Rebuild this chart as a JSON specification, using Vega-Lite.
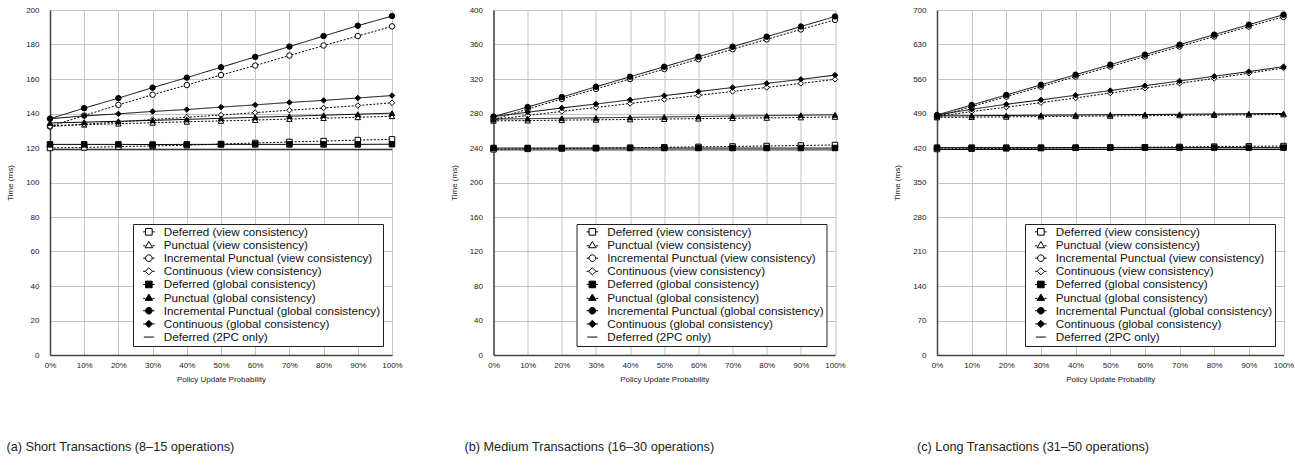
{
"$schema": "https://vega.github.io/schema/vega-lite/v6.json",
"padding": {"left": 6, "top": 6, "right": 0, "bottom": 0},
"bounds": "flush",
"spacing": 101.5,
"datasets": {
"short": [
{"s":"Deferred (view consistency)","p":0,"t":120},{"s":"Deferred (view consistency)","p":10,"t":120.3},{"s":"Deferred (view consistency)","p":20,"t":120.8},{"s":"Deferred (view consistency)","p":30,"t":121.2},{"s":"Deferred (view consistency)","p":40,"t":121.6},{"s":"Deferred (view consistency)","p":50,"t":122.3},{"s":"Deferred (view consistency)","p":60,"t":122.9},{"s":"Deferred (view consistency)","p":70,"t":123.5},{"s":"Deferred (view consistency)","p":80,"t":124},{"s":"Deferred (view consistency)","p":90,"t":124.6},{"s":"Deferred (view consistency)","p":100,"t":125},
{"s":"Punctual (view consistency)","p":0,"t":133},{"s":"Punctual (view consistency)","p":10,"t":133.5},{"s":"Punctual (view consistency)","p":20,"t":134.1},{"s":"Punctual (view consistency)","p":30,"t":134.6},{"s":"Punctual (view consistency)","p":40,"t":135.2},{"s":"Punctual (view consistency)","p":50,"t":135.7},{"s":"Punctual (view consistency)","p":60,"t":136.2},{"s":"Punctual (view consistency)","p":70,"t":136.8},{"s":"Punctual (view consistency)","p":80,"t":137.3},{"s":"Punctual (view consistency)","p":90,"t":137.8},{"s":"Punctual (view consistency)","p":100,"t":138.4},
{"s":"Incremental Punctual (view consistency)","p":0,"t":132.5},{"s":"Incremental Punctual (view consistency)","p":10,"t":138.8},{"s":"Incremental Punctual (view consistency)","p":20,"t":145},{"s":"Incremental Punctual (view consistency)","p":30,"t":150.9},{"s":"Incremental Punctual (view consistency)","p":40,"t":156.5},{"s":"Incremental Punctual (view consistency)","p":50,"t":162.3},{"s":"Incremental Punctual (view consistency)","p":60,"t":167.8},{"s":"Incremental Punctual (view consistency)","p":70,"t":173.6},{"s":"Incremental Punctual (view consistency)","p":80,"t":179.4},{"s":"Incremental Punctual (view consistency)","p":90,"t":184.9},{"s":"Incremental Punctual (view consistency)","p":100,"t":190.5},
{"s":"Continuous (view consistency)","p":0,"t":132.4},{"s":"Continuous (view consistency)","p":10,"t":133.8},{"s":"Continuous (view consistency)","p":20,"t":135.1},{"s":"Continuous (view consistency)","p":30,"t":136.5},{"s":"Continuous (view consistency)","p":40,"t":137.8},{"s":"Continuous (view consistency)","p":50,"t":139.1},{"s":"Continuous (view consistency)","p":60,"t":140.5},{"s":"Continuous (view consistency)","p":70,"t":141.9},{"s":"Continuous (view consistency)","p":80,"t":143.2},{"s":"Continuous (view consistency)","p":90,"t":144.6},{"s":"Continuous (view consistency)","p":100,"t":146.2},
{"s":"Deferred (global consistency)","p":0,"t":122.1},{"s":"Deferred (global consistency)","p":10,"t":122.1},{"s":"Deferred (global consistency)","p":20,"t":122.1},{"s":"Deferred (global consistency)","p":30,"t":122},{"s":"Deferred (global consistency)","p":40,"t":122.1},{"s":"Deferred (global consistency)","p":50,"t":122.1},{"s":"Deferred (global consistency)","p":60,"t":122.1},{"s":"Deferred (global consistency)","p":70,"t":122.1},{"s":"Deferred (global consistency)","p":80,"t":122.1},{"s":"Deferred (global consistency)","p":90,"t":122.1},{"s":"Deferred (global consistency)","p":100,"t":122.2},
{"s":"Punctual (global consistency)","p":0,"t":134.5},{"s":"Punctual (global consistency)","p":10,"t":135},{"s":"Punctual (global consistency)","p":20,"t":135.5},{"s":"Punctual (global consistency)","p":30,"t":136},{"s":"Punctual (global consistency)","p":40,"t":136.6},{"s":"Punctual (global consistency)","p":50,"t":137.2},{"s":"Punctual (global consistency)","p":60,"t":137.8},{"s":"Punctual (global consistency)","p":70,"t":138.4},{"s":"Punctual (global consistency)","p":80,"t":139},{"s":"Punctual (global consistency)","p":90,"t":139.6},{"s":"Punctual (global consistency)","p":100,"t":140.2},
{"s":"Incremental Punctual (global consistency)","p":0,"t":137},{"s":"Incremental Punctual (global consistency)","p":10,"t":143.1},{"s":"Incremental Punctual (global consistency)","p":20,"t":148.9},{"s":"Incremental Punctual (global consistency)","p":30,"t":155},{"s":"Incremental Punctual (global consistency)","p":40,"t":160.8},{"s":"Incremental Punctual (global consistency)","p":50,"t":166.8},{"s":"Incremental Punctual (global consistency)","p":60,"t":172.8},{"s":"Incremental Punctual (global consistency)","p":70,"t":178.8},{"s":"Incremental Punctual (global consistency)","p":80,"t":184.9},{"s":"Incremental Punctual (global consistency)","p":90,"t":190.9},{"s":"Incremental Punctual (global consistency)","p":100,"t":196.5},
{"s":"Continuous (global consistency)","p":0,"t":137},{"s":"Continuous (global consistency)","p":10,"t":138.6},{"s":"Continuous (global consistency)","p":20,"t":139.8},{"s":"Continuous (global consistency)","p":30,"t":141.2},{"s":"Continuous (global consistency)","p":40,"t":142.3},{"s":"Continuous (global consistency)","p":50,"t":143.7},{"s":"Continuous (global consistency)","p":60,"t":145},{"s":"Continuous (global consistency)","p":70,"t":146.4},{"s":"Continuous (global consistency)","p":80,"t":147.6},{"s":"Continuous (global consistency)","p":90,"t":149},{"s":"Continuous (global consistency)","p":100,"t":150.4},
{"s":"Deferred (2PC only)","p":0,"t":119},{"s":"Deferred (2PC only)","p":10,"t":119},{"s":"Deferred (2PC only)","p":20,"t":119},{"s":"Deferred (2PC only)","p":30,"t":119},{"s":"Deferred (2PC only)","p":40,"t":119},{"s":"Deferred (2PC only)","p":50,"t":119},{"s":"Deferred (2PC only)","p":60,"t":119},{"s":"Deferred (2PC only)","p":70,"t":119},{"s":"Deferred (2PC only)","p":80,"t":119},{"s":"Deferred (2PC only)","p":90,"t":119},{"s":"Deferred (2PC only)","p":100,"t":119}
],
"medium": [
{"s":"Deferred (view consistency)","p":0,"t":238.5},{"s":"Deferred (view consistency)","p":10,"t":239},{"s":"Deferred (view consistency)","p":20,"t":239.4},{"s":"Deferred (view consistency)","p":30,"t":239.8},{"s":"Deferred (view consistency)","p":40,"t":240.3},{"s":"Deferred (view consistency)","p":50,"t":240.8},{"s":"Deferred (view consistency)","p":60,"t":241.3},{"s":"Deferred (view consistency)","p":70,"t":241.8},{"s":"Deferred (view consistency)","p":80,"t":242.3},{"s":"Deferred (view consistency)","p":90,"t":242.9},{"s":"Deferred (view consistency)","p":100,"t":243.5},
{"s":"Punctual (view consistency)","p":0,"t":271.5},{"s":"Punctual (view consistency)","p":10,"t":271.8},{"s":"Punctual (view consistency)","p":20,"t":272.3},{"s":"Punctual (view consistency)","p":30,"t":272.7},{"s":"Punctual (view consistency)","p":40,"t":273.1},{"s":"Punctual (view consistency)","p":50,"t":273.6},{"s":"Punctual (view consistency)","p":60,"t":274},{"s":"Punctual (view consistency)","p":70,"t":274.5},{"s":"Punctual (view consistency)","p":80,"t":274.9},{"s":"Punctual (view consistency)","p":90,"t":275.4},{"s":"Punctual (view consistency)","p":100,"t":276},
{"s":"Incremental Punctual (view consistency)","p":0,"t":273},{"s":"Incremental Punctual (view consistency)","p":10,"t":285},{"s":"Incremental Punctual (view consistency)","p":20,"t":297},{"s":"Incremental Punctual (view consistency)","p":30,"t":308.5},{"s":"Incremental Punctual (view consistency)","p":40,"t":320},{"s":"Incremental Punctual (view consistency)","p":50,"t":331.5},{"s":"Incremental Punctual (view consistency)","p":60,"t":343},{"s":"Incremental Punctual (view consistency)","p":70,"t":354.5},{"s":"Incremental Punctual (view consistency)","p":80,"t":366},{"s":"Incremental Punctual (view consistency)","p":90,"t":377.5},{"s":"Incremental Punctual (view consistency)","p":100,"t":388.5},
{"s":"Continuous (view consistency)","p":0,"t":273},{"s":"Continuous (view consistency)","p":10,"t":277.8},{"s":"Continuous (view consistency)","p":20,"t":282.4},{"s":"Continuous (view consistency)","p":30,"t":287},{"s":"Continuous (view consistency)","p":40,"t":291.6},{"s":"Continuous (view consistency)","p":50,"t":296.3},{"s":"Continuous (view consistency)","p":60,"t":301},{"s":"Continuous (view consistency)","p":70,"t":305.6},{"s":"Continuous (view consistency)","p":80,"t":310.2},{"s":"Continuous (view consistency)","p":90,"t":314.9},{"s":"Continuous (view consistency)","p":100,"t":319.6},
{"s":"Deferred (global consistency)","p":0,"t":240},{"s":"Deferred (global consistency)","p":10,"t":240},{"s":"Deferred (global consistency)","p":20,"t":240},{"s":"Deferred (global consistency)","p":30,"t":240},{"s":"Deferred (global consistency)","p":40,"t":240},{"s":"Deferred (global consistency)","p":50,"t":240},{"s":"Deferred (global consistency)","p":60,"t":240},{"s":"Deferred (global consistency)","p":70,"t":240},{"s":"Deferred (global consistency)","p":80,"t":240},{"s":"Deferred (global consistency)","p":90,"t":240},{"s":"Deferred (global consistency)","p":100,"t":240},
{"s":"Punctual (global consistency)","p":0,"t":273.5},{"s":"Punctual (global consistency)","p":10,"t":274},{"s":"Punctual (global consistency)","p":20,"t":274.5},{"s":"Punctual (global consistency)","p":30,"t":275},{"s":"Punctual (global consistency)","p":40,"t":275.5},{"s":"Punctual (global consistency)","p":50,"t":276},{"s":"Punctual (global consistency)","p":60,"t":276.5},{"s":"Punctual (global consistency)","p":70,"t":277},{"s":"Punctual (global consistency)","p":80,"t":277.5},{"s":"Punctual (global consistency)","p":90,"t":278},{"s":"Punctual (global consistency)","p":100,"t":278.5},
{"s":"Incremental Punctual (global consistency)","p":0,"t":276.4},{"s":"Incremental Punctual (global consistency)","p":10,"t":287.5},{"s":"Incremental Punctual (global consistency)","p":20,"t":299},{"s":"Incremental Punctual (global consistency)","p":30,"t":311},{"s":"Incremental Punctual (global consistency)","p":40,"t":322.6},{"s":"Incremental Punctual (global consistency)","p":50,"t":334.2},{"s":"Incremental Punctual (global consistency)","p":60,"t":345.8},{"s":"Incremental Punctual (global consistency)","p":70,"t":357.4},{"s":"Incremental Punctual (global consistency)","p":80,"t":369},{"s":"Incremental Punctual (global consistency)","p":90,"t":380.8},{"s":"Incremental Punctual (global consistency)","p":100,"t":392.5},
{"s":"Continuous (global consistency)","p":0,"t":276.4},{"s":"Continuous (global consistency)","p":10,"t":281.5},{"s":"Continuous (global consistency)","p":20,"t":286.4},{"s":"Continuous (global consistency)","p":30,"t":291},{"s":"Continuous (global consistency)","p":40,"t":295.8},{"s":"Continuous (global consistency)","p":50,"t":300.7},{"s":"Continuous (global consistency)","p":60,"t":305.4},{"s":"Continuous (global consistency)","p":70,"t":310.1},{"s":"Continuous (global consistency)","p":80,"t":314.9},{"s":"Continuous (global consistency)","p":90,"t":319.6},{"s":"Continuous (global consistency)","p":100,"t":324.5},
{"s":"Deferred (2PC only)","p":0,"t":237.8},{"s":"Deferred (2PC only)","p":10,"t":237.8},{"s":"Deferred (2PC only)","p":20,"t":237.8},{"s":"Deferred (2PC only)","p":30,"t":237.8},{"s":"Deferred (2PC only)","p":40,"t":237.8},{"s":"Deferred (2PC only)","p":50,"t":237.8},{"s":"Deferred (2PC only)","p":60,"t":237.8},{"s":"Deferred (2PC only)","p":70,"t":237.8},{"s":"Deferred (2PC only)","p":80,"t":237.8},{"s":"Deferred (2PC only)","p":90,"t":237.8},{"s":"Deferred (2PC only)","p":100,"t":237.8}
],
"long": [
{"s":"Deferred (view consistency)","p":0,"t":418},{"s":"Deferred (view consistency)","p":10,"t":418.6},{"s":"Deferred (view consistency)","p":20,"t":419.2},{"s":"Deferred (view consistency)","p":30,"t":419.8},{"s":"Deferred (view consistency)","p":40,"t":420.4},{"s":"Deferred (view consistency)","p":50,"t":421},{"s":"Deferred (view consistency)","p":60,"t":421.6},{"s":"Deferred (view consistency)","p":70,"t":422.2},{"s":"Deferred (view consistency)","p":80,"t":422.8},{"s":"Deferred (view consistency)","p":90,"t":423.4},{"s":"Deferred (view consistency)","p":100,"t":424},
{"s":"Punctual (view consistency)","p":0,"t":482},{"s":"Punctual (view consistency)","p":10,"t":482.6},{"s":"Punctual (view consistency)","p":20,"t":483.2},{"s":"Punctual (view consistency)","p":30,"t":483.8},{"s":"Punctual (view consistency)","p":40,"t":484.4},{"s":"Punctual (view consistency)","p":50,"t":485},{"s":"Punctual (view consistency)","p":60,"t":485.6},{"s":"Punctual (view consistency)","p":70,"t":486.2},{"s":"Punctual (view consistency)","p":80,"t":486.8},{"s":"Punctual (view consistency)","p":90,"t":487.4},{"s":"Punctual (view consistency)","p":100,"t":488},
{"s":"Incremental Punctual (view consistency)","p":0,"t":484},{"s":"Incremental Punctual (view consistency)","p":10,"t":504},{"s":"Incremental Punctual (view consistency)","p":20,"t":524.3},{"s":"Incremental Punctual (view consistency)","p":30,"t":544.5},{"s":"Incremental Punctual (view consistency)","p":40,"t":565},{"s":"Incremental Punctual (view consistency)","p":50,"t":585.3},{"s":"Incremental Punctual (view consistency)","p":60,"t":605.6},{"s":"Incremental Punctual (view consistency)","p":70,"t":626},{"s":"Incremental Punctual (view consistency)","p":80,"t":646.3},{"s":"Incremental Punctual (view consistency)","p":90,"t":666.5},{"s":"Incremental Punctual (view consistency)","p":100,"t":686},
{"s":"Continuous (view consistency)","p":0,"t":483.6},{"s":"Continuous (view consistency)","p":10,"t":494},{"s":"Continuous (view consistency)","p":20,"t":502.8},{"s":"Continuous (view consistency)","p":30,"t":512},{"s":"Continuous (view consistency)","p":40,"t":521.5},{"s":"Continuous (view consistency)","p":50,"t":531.5},{"s":"Continuous (view consistency)","p":60,"t":541.2},{"s":"Continuous (view consistency)","p":70,"t":551.2},{"s":"Continuous (view consistency)","p":80,"t":561.2},{"s":"Continuous (view consistency)","p":90,"t":571.6},{"s":"Continuous (view consistency)","p":100,"t":582.4},
{"s":"Deferred (global consistency)","p":0,"t":420.7},{"s":"Deferred (global consistency)","p":10,"t":420.7},{"s":"Deferred (global consistency)","p":20,"t":420.7},{"s":"Deferred (global consistency)","p":30,"t":420.7},{"s":"Deferred (global consistency)","p":40,"t":420.7},{"s":"Deferred (global consistency)","p":50,"t":420.7},{"s":"Deferred (global consistency)","p":60,"t":420.7},{"s":"Deferred (global consistency)","p":70,"t":420.7},{"s":"Deferred (global consistency)","p":80,"t":420.7},{"s":"Deferred (global consistency)","p":90,"t":420.7},{"s":"Deferred (global consistency)","p":100,"t":420.7},
{"s":"Punctual (global consistency)","p":0,"t":485},{"s":"Punctual (global consistency)","p":10,"t":485.5},{"s":"Punctual (global consistency)","p":20,"t":486},{"s":"Punctual (global consistency)","p":30,"t":486.5},{"s":"Punctual (global consistency)","p":40,"t":487},{"s":"Punctual (global consistency)","p":50,"t":487.5},{"s":"Punctual (global consistency)","p":60,"t":488},{"s":"Punctual (global consistency)","p":70,"t":488.5},{"s":"Punctual (global consistency)","p":80,"t":489},{"s":"Punctual (global consistency)","p":90,"t":489.5},{"s":"Punctual (global consistency)","p":100,"t":490},
{"s":"Incremental Punctual (global consistency)","p":0,"t":487},{"s":"Incremental Punctual (global consistency)","p":10,"t":507.2},{"s":"Incremental Punctual (global consistency)","p":20,"t":527.6},{"s":"Incremental Punctual (global consistency)","p":30,"t":548.1},{"s":"Incremental Punctual (global consistency)","p":40,"t":568.7},{"s":"Incremental Punctual (global consistency)","p":50,"t":589.1},{"s":"Incremental Punctual (global consistency)","p":60,"t":609.4},{"s":"Incremental Punctual (global consistency)","p":70,"t":629.7},{"s":"Incremental Punctual (global consistency)","p":80,"t":650},{"s":"Incremental Punctual (global consistency)","p":90,"t":670.2},{"s":"Incremental Punctual (global consistency)","p":100,"t":690.5},
{"s":"Continuous (global consistency)","p":0,"t":487},{"s":"Continuous (global consistency)","p":10,"t":498.5},{"s":"Continuous (global consistency)","p":20,"t":508.7},{"s":"Continuous (global consistency)","p":30,"t":517.6},{"s":"Continuous (global consistency)","p":40,"t":527},{"s":"Continuous (global consistency)","p":50,"t":536.5},{"s":"Continuous (global consistency)","p":60,"t":546.4},{"s":"Continuous (global consistency)","p":70,"t":556},{"s":"Continuous (global consistency)","p":80,"t":565.5},{"s":"Continuous (global consistency)","p":90,"t":575},{"s":"Continuous (global consistency)","p":100,"t":585},
{"s":"Deferred (2PC only)","p":0,"t":417},{"s":"Deferred (2PC only)","p":10,"t":417},{"s":"Deferred (2PC only)","p":20,"t":417},{"s":"Deferred (2PC only)","p":30,"t":417},{"s":"Deferred (2PC only)","p":40,"t":417},{"s":"Deferred (2PC only)","p":50,"t":417},{"s":"Deferred (2PC only)","p":60,"t":417},{"s":"Deferred (2PC only)","p":70,"t":417},{"s":"Deferred (2PC only)","p":80,"t":417},{"s":"Deferred (2PC only)","p":90,"t":417},{"s":"Deferred (2PC only)","p":100,"t":417}
]
},
"hconcat": [
{
"width": 342, "height": 345,
"data": {"name": "short"},
"title": {"text": "(a) Short Transactions (8–15 operations)", "dx": -43.5},
"encoding": {
 "x": {"field": "p", "type": "quantitative", "scale": {"domain": [0, 100], "nice": false}, "axis": {"values": [0,10,20,30,40,50,60,70,80,90,100], "labelExpr": "datum.value + '%'", "title": "Policy Update Probability"}},
 "y": {"field": "t", "type": "quantitative", "scale": {"domain": [0, 200], "nice": false}, "axis": {"values": [0,20,40,60,80,100,120,140,160,180,200], "title": "Time (ms)"}}
},
"layer": [
 {"mark": {"type": "line", "color": "black", "strokeWidth": 1},
  "encoding": {"detail": {"field": "s"}, "strokeDash": {"field": "s", "scale": {"domain": ["Deferred (view consistency)","Punctual (view consistency)","Incremental Punctual (view consistency)","Continuous (view consistency)","Deferred (global consistency)","Punctual (global consistency)","Incremental Punctual (global consistency)","Continuous (global consistency)","Deferred (2PC only)"], "range": [[2,1.6],[2,1.6],[2,1.6],[2,1.6],[1,0],[1,0],[1,0],[1,0],[1,0]]}, "legend": null}}},
 {"transform": [{"filter": "datum.s !== 'Deferred (2PC only)'"}],
  "mark": {"type": "point", "filled": true, "stroke": "black", "strokeWidth": 1, "size": 30, "opacity": 1},
  "encoding": {
   "shape": {"field": "s", "scale": {"domain": ["Deferred (view consistency)","Punctual (view consistency)","Incremental Punctual (view consistency)","Continuous (view consistency)","Deferred (global consistency)","Punctual (global consistency)","Incremental Punctual (global consistency)","Continuous (global consistency)"], "range": ["square","triangle-up","circle","diamond","square","triangle-up","circle","diamond"]}, "legend": null},
   "fill": {"field": "s", "scale": {"domain": ["Deferred (view consistency)","Punctual (view consistency)","Incremental Punctual (view consistency)","Continuous (view consistency)","Deferred (global consistency)","Punctual (global consistency)","Incremental Punctual (global consistency)","Continuous (global consistency)"], "range": ["white","white","white","white","black","black","black","black"]}, "legend": null}}},
 {"mark": {"type": "point", "filled": true, "opacity": 0, "stroke": "black", "size": 100},
  "encoding": {
   "shape": {"field": "s", "scale": {"domain": ["Deferred (view consistency)","Punctual (view consistency)","Incremental Punctual (view consistency)","Continuous (view consistency)","Deferred (global consistency)","Punctual (global consistency)","Incremental Punctual (global consistency)","Continuous (global consistency)","Deferred (2PC only)"], "range": ["M-1.15,0H-0.66M0.66,0H1.15M-0.66,-0.66H0.66V0.66H-0.66Z","M-1.15,0.15H-0.7M0.7,0.15H1.15M0,-0.7L0.75,0.55L-0.75,0.55Z","M-1.15,0H-0.66M0.66,0H1.15M0.66,0A0.66,0.66,0,1,1,-0.66,0A0.66,0.66,0,1,1,0.66,0Z","M-1.15,0H-0.72M0.72,0H1.15M0,-0.72L0.72,0L0,0.72L-0.72,0Z","M-1.15,0H-0.66M0.66,0H1.15M-0.66,-0.66H0.66V0.66H-0.66Z","M-1.15,0.15H-0.7M0.7,0.15H1.15M0,-0.7L0.75,0.55L-0.75,0.55Z","M-1.15,0H-0.66M0.66,0H1.15M0.66,0A0.66,0.66,0,1,1,-0.66,0A0.66,0.66,0,1,1,0.66,0Z","M-1.15,0H-0.72M0.72,0H1.15M0,-0.72L0.72,0L0,0.72L-0.72,0Z","M-1,0H1"]}, "legend": {"title": null, "labelExpr": "datum.label + '\u00a0\u00a0'", "encode": {"symbols": {"update": {"stroke": {"value": "black"}, "strokeWidth": {"value": 1}, "opacity": {"value": 1}}}}}},
   "fill": {"field": "s", "scale": {"domain": ["Deferred (view consistency)","Punctual (view consistency)","Incremental Punctual (view consistency)","Continuous (view consistency)","Deferred (global consistency)","Punctual (global consistency)","Incremental Punctual (global consistency)","Continuous (global consistency)","Deferred (2PC only)"], "range": ["white","white","white","white","black","black","black","black","white"]}, "legend": {"title": null, "labelExpr": "datum.label + '\u00a0\u00a0'", "encode": {"symbols": {"update": {"stroke": {"value": "black"}, "strokeWidth": {"value": 1}, "opacity": {"value": 1}}}}}}}}
],
"resolve": {"scale": {"shape": "independent", "fill": "independent"}, "legend": {"shape": "independent", "fill": "independent"}}
},
{
"width": 341.5, "height": 345,
"data": {"name": "medium"},
"title": {"text": "(b) Medium Transactions (16–30 operations)", "dx": -29},
"encoding": {
 "x": {"field": "p", "type": "quantitative", "scale": {"domain": [0, 100], "nice": false}, "axis": {"values": [0,10,20,30,40,50,60,70,80,90,100], "labelExpr": "datum.value + '%'", "title": "Policy Update Probability"}},
 "y": {"field": "t", "type": "quantitative", "scale": {"domain": [0, 400], "nice": false}, "axis": {"values": [0,40,80,120,160,200,240,280,320,360,400], "title": "Time (ms)"}}
},
"layer": [
 {"mark": {"type": "line", "color": "black", "strokeWidth": 1},
  "encoding": {"detail": {"field": "s"}, "strokeDash": {"field": "s", "scale": {"domain": ["Deferred (view consistency)","Punctual (view consistency)","Incremental Punctual (view consistency)","Continuous (view consistency)","Deferred (global consistency)","Punctual (global consistency)","Incremental Punctual (global consistency)","Continuous (global consistency)","Deferred (2PC only)"], "range": [[2,1.6],[2,1.6],[2,1.6],[2,1.6],[1,0],[1,0],[1,0],[1,0],[1,0]]}, "legend": null}}},
 {"transform": [{"filter": "datum.s !== 'Deferred (2PC only)'"}],
  "mark": {"type": "point", "filled": true, "stroke": "black", "strokeWidth": 1, "size": 30, "opacity": 1},
  "encoding": {
   "shape": {"field": "s", "scale": {"domain": ["Deferred (view consistency)","Punctual (view consistency)","Incremental Punctual (view consistency)","Continuous (view consistency)","Deferred (global consistency)","Punctual (global consistency)","Incremental Punctual (global consistency)","Continuous (global consistency)"], "range": ["square","triangle-up","circle","diamond","square","triangle-up","circle","diamond"]}, "legend": null},
   "fill": {"field": "s", "scale": {"domain": ["Deferred (view consistency)","Punctual (view consistency)","Incremental Punctual (view consistency)","Continuous (view consistency)","Deferred (global consistency)","Punctual (global consistency)","Incremental Punctual (global consistency)","Continuous (global consistency)"], "range": ["white","white","white","white","black","black","black","black"]}, "legend": null}}},
 {"mark": {"type": "point", "filled": true, "opacity": 0, "stroke": "black", "size": 100},
  "encoding": {
   "shape": {"field": "s", "scale": {"domain": ["Deferred (view consistency)","Punctual (view consistency)","Incremental Punctual (view consistency)","Continuous (view consistency)","Deferred (global consistency)","Punctual (global consistency)","Incremental Punctual (global consistency)","Continuous (global consistency)","Deferred (2PC only)"], "range": ["M-1.15,0H-0.66M0.66,0H1.15M-0.66,-0.66H0.66V0.66H-0.66Z","M-1.15,0.15H-0.7M0.7,0.15H1.15M0,-0.7L0.75,0.55L-0.75,0.55Z","M-1.15,0H-0.66M0.66,0H1.15M0.66,0A0.66,0.66,0,1,1,-0.66,0A0.66,0.66,0,1,1,0.66,0Z","M-1.15,0H-0.72M0.72,0H1.15M0,-0.72L0.72,0L0,0.72L-0.72,0Z","M-1.15,0H-0.66M0.66,0H1.15M-0.66,-0.66H0.66V0.66H-0.66Z","M-1.15,0.15H-0.7M0.7,0.15H1.15M0,-0.7L0.75,0.55L-0.75,0.55Z","M-1.15,0H-0.66M0.66,0H1.15M0.66,0A0.66,0.66,0,1,1,-0.66,0A0.66,0.66,0,1,1,0.66,0Z","M-1.15,0H-0.72M0.72,0H1.15M0,-0.72L0.72,0L0,0.72L-0.72,0Z","M-1,0H1"]}, "legend": {"title": null, "labelExpr": "datum.label + '\u00a0\u00a0'", "encode": {"symbols": {"update": {"stroke": {"value": "black"}, "strokeWidth": {"value": 1}, "opacity": {"value": 1}}}}}},
   "fill": {"field": "s", "scale": {"domain": ["Deferred (view consistency)","Punctual (view consistency)","Incremental Punctual (view consistency)","Continuous (view consistency)","Deferred (global consistency)","Punctual (global consistency)","Incremental Punctual (global consistency)","Continuous (global consistency)","Deferred (2PC only)"], "range": ["white","white","white","white","black","black","black","black","white"]}, "legend": {"title": null, "labelExpr": "datum.label + '\u00a0\u00a0'", "encode": {"symbols": {"update": {"stroke": {"value": "black"}, "strokeWidth": {"value": 1}, "opacity": {"value": 1}}}}}}}}
],
"resolve": {"scale": {"shape": "independent", "fill": "independent"}, "legend": {"shape": "independent", "fill": "independent"}}
},
{
"width": 346.5, "height": 345,
"data": {"name": "long"},
"title": {"text": "(c) Long Transactions (31–50 operations)", "dx": -20},
"encoding": {
 "x": {"field": "p", "type": "quantitative", "scale": {"domain": [0, 100], "nice": false}, "axis": {"values": [0,10,20,30,40,50,60,70,80,90,100], "labelExpr": "datum.value + '%'", "title": "Policy Update Probability"}},
 "y": {"field": "t", "type": "quantitative", "scale": {"domain": [0, 700], "nice": false}, "axis": {"values": [0,70,140,210,280,350,420,490,560,630,700], "title": "Time (ms)"}}
},
"layer": [
 {"mark": {"type": "line", "color": "black", "strokeWidth": 1},
  "encoding": {"detail": {"field": "s"}, "strokeDash": {"field": "s", "scale": {"domain": ["Deferred (view consistency)","Punctual (view consistency)","Incremental Punctual (view consistency)","Continuous (view consistency)","Deferred (global consistency)","Punctual (global consistency)","Incremental Punctual (global consistency)","Continuous (global consistency)","Deferred (2PC only)"], "range": [[2,1.6],[2,1.6],[2,1.6],[2,1.6],[1,0],[1,0],[1,0],[1,0],[1,0]]}, "legend": null}}},
 {"transform": [{"filter": "datum.s !== 'Deferred (2PC only)'"}],
  "mark": {"type": "point", "filled": true, "stroke": "black", "strokeWidth": 1, "size": 30, "opacity": 1},
  "encoding": {
   "shape": {"field": "s", "scale": {"domain": ["Deferred (view consistency)","Punctual (view consistency)","Incremental Punctual (view consistency)","Continuous (view consistency)","Deferred (global consistency)","Punctual (global consistency)","Incremental Punctual (global consistency)","Continuous (global consistency)"], "range": ["square","triangle-up","circle","diamond","square","triangle-up","circle","diamond"]}, "legend": null},
   "fill": {"field": "s", "scale": {"domain": ["Deferred (view consistency)","Punctual (view consistency)","Incremental Punctual (view consistency)","Continuous (view consistency)","Deferred (global consistency)","Punctual (global consistency)","Incremental Punctual (global consistency)","Continuous (global consistency)"], "range": ["white","white","white","white","black","black","black","black"]}, "legend": null}}},
 {"mark": {"type": "point", "filled": true, "opacity": 0, "stroke": "black", "size": 100},
  "encoding": {
   "shape": {"field": "s", "scale": {"domain": ["Deferred (view consistency)","Punctual (view consistency)","Incremental Punctual (view consistency)","Continuous (view consistency)","Deferred (global consistency)","Punctual (global consistency)","Incremental Punctual (global consistency)","Continuous (global consistency)","Deferred (2PC only)"], "range": ["M-1.15,0H-0.66M0.66,0H1.15M-0.66,-0.66H0.66V0.66H-0.66Z","M-1.15,0.15H-0.7M0.7,0.15H1.15M0,-0.7L0.75,0.55L-0.75,0.55Z","M-1.15,0H-0.66M0.66,0H1.15M0.66,0A0.66,0.66,0,1,1,-0.66,0A0.66,0.66,0,1,1,0.66,0Z","M-1.15,0H-0.72M0.72,0H1.15M0,-0.72L0.72,0L0,0.72L-0.72,0Z","M-1.15,0H-0.66M0.66,0H1.15M-0.66,-0.66H0.66V0.66H-0.66Z","M-1.15,0.15H-0.7M0.7,0.15H1.15M0,-0.7L0.75,0.55L-0.75,0.55Z","M-1.15,0H-0.66M0.66,0H1.15M0.66,0A0.66,0.66,0,1,1,-0.66,0A0.66,0.66,0,1,1,0.66,0Z","M-1.15,0H-0.72M0.72,0H1.15M0,-0.72L0.72,0L0,0.72L-0.72,0Z","M-1,0H1"]}, "legend": {"title": null, "labelExpr": "datum.label + '\u00a0\u00a0'", "encode": {"symbols": {"update": {"stroke": {"value": "black"}, "strokeWidth": {"value": 1}, "opacity": {"value": 1}}}}}},
   "fill": {"field": "s", "scale": {"domain": ["Deferred (view consistency)","Punctual (view consistency)","Incremental Punctual (view consistency)","Continuous (view consistency)","Deferred (global consistency)","Punctual (global consistency)","Incremental Punctual (global consistency)","Continuous (global consistency)","Deferred (2PC only)"], "range": ["white","white","white","white","black","black","black","black","white"]}, "legend": {"title": null, "labelExpr": "datum.label + '\u00a0\u00a0'", "encode": {"symbols": {"update": {"stroke": {"value": "black"}, "strokeWidth": {"value": 1}, "opacity": {"value": 1}}}}}}}}
],
"resolve": {"scale": {"shape": "independent", "fill": "independent"}, "legend": {"shape": "independent", "fill": "independent"}}
}
],
"config": {
 "font": "Liberation Sans",
 "background": "white",
 "view": {"stroke": null},
 "axis": {"labelFont": "Liberation Sans", "labelFontSize": 8, "labelColor": "#222", "labelFlush": false, "titleFont": "Liberation Sans", "titleFontSize": 8, "titleFontWeight": "normal", "titleColor": "#222", "ticks": false, "grid": true, "gridColor": "#c4c4c4", "gridWidth": 1, "domainColor": "#444", "domainWidth": 1.5},
 "axisX": {"labelPadding": 6, "titlePadding": 6},
 "axisY": {"labelPadding": 11, "titlePadding": 11},
 "legend": {"orient": "bottom-right", "offset": 9, "padding": 2, "symbolOffset": 8, "rowPadding": 0.15, "labelFont": "Liberation Sans", "labelFontSize": 11.7, "labelColor": "#111", "labelLimit": 400, "labelOffset": 9, "strokeColor": "#222", "fillColor": "white", "symbolSize": 100, "symbolStrokeColor": "black", "symbolStrokeWidth": 1, "symbolOpacity": 1},
 "title": {"font": "Liberation Sans", "fontSize": 12.7, "fontWeight": "normal", "color": "#222", "orient": "bottom", "anchor": "start", "frame": "group", "offset": 58}
}
}
